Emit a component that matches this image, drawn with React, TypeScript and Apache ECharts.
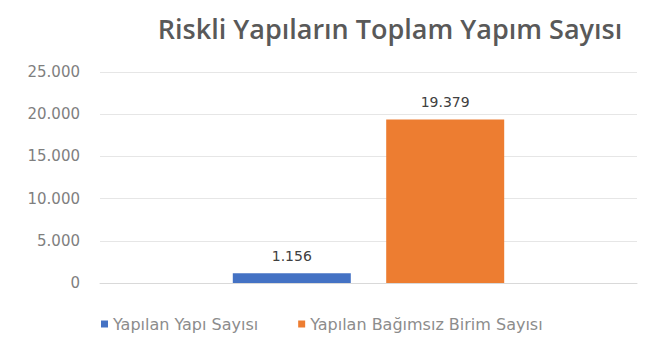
import React, { useEffect, useRef } from "react";
import * as echarts from "echarts";

const categories = [""];
const seriesNames = ["Yapılan Yapı Sayısı", "Yapılan Bağımsız Birim Sayısı"];
const builtBuildings = [1156];
const builtUnits = [19379];
const colors = ["#4472C4", "#ED7D31"];

const fmt = (v: number) => String(v).replace(/\B(?=(\d{3})+(?!\d))/g, ".");

export default function App() {
  const ref = useRef<HTMLDivElement>(null);
  useEffect(() => {
    const chart = echarts.init(ref.current!, null, { renderer: "svg" });
    const labelStyle = {
      show: true,
      position: "top",
      distance: 10,
      fontFamily: "DejaVu Sans",
      fontSize: 14,
      color: "#404040",
      formatter: (p: any) => fmt(p.value),
    };
    chart.setOption({
      animation: false,
      backgroundColor: "#ffffff",
      title: {
        text: "Riskli Yapıların Toplam Yapım Sayısı",
        left: 385,
        textAlign: "center",
        top: 10,
        textStyle: { fontFamily: "Open Sans", fontSize: 27, fontWeight: 600, color: "#595959" },
      },
      grid: { left: 100, right: 18, top: 72, bottom: 59 },
      legend: {
        bottom: 5,
        left: 96,
        itemWidth: 7,
        itemHeight: 7,
        itemGap: 40,
        icon: "rect",
        textStyle: { fontFamily: "DejaVu Sans", fontSize: 16, color: "#8C8C8C" },
        data: seriesNames,
      },
      xAxis: {
        type: "category",
        data: categories,
        axisLine: { lineStyle: { color: "#D9D9D9" } },
        axisTick: { show: false },
        axisLabel: { show: false },
      },
      yAxis: {
        type: "value",
        min: 0,
        max: 25000,
        interval: 5000,
        axisLine: { show: false },
        axisTick: { show: false },
        splitLine: { lineStyle: { color: "#E6E6E6" } },
        axisLabel: {
          fontFamily: "DejaVu Sans",
          fontSize: 15,
          color: "#7F7F7F",
          margin: 20,
          formatter: (v: number) => fmt(v),
        },
      },
      series: [
        {
          name: seriesNames[0],
          type: "bar",
          data: builtBuildings,
          barWidth: 118,
          barGap: "30%",
          itemStyle: { color: colors[0] },
          label: labelStyle,
        },
        {
          name: seriesNames[1],
          type: "bar",
          data: builtUnits,
          barWidth: 118,
          itemStyle: { color: colors[1] },
          label: labelStyle,
        },
      ],
    });
    return () => chart.dispose();
  }, []);
  return <div ref={ref} style={{ position: "fixed", left: 0, top: 0, width: 655, height: 342 }} />;
}
